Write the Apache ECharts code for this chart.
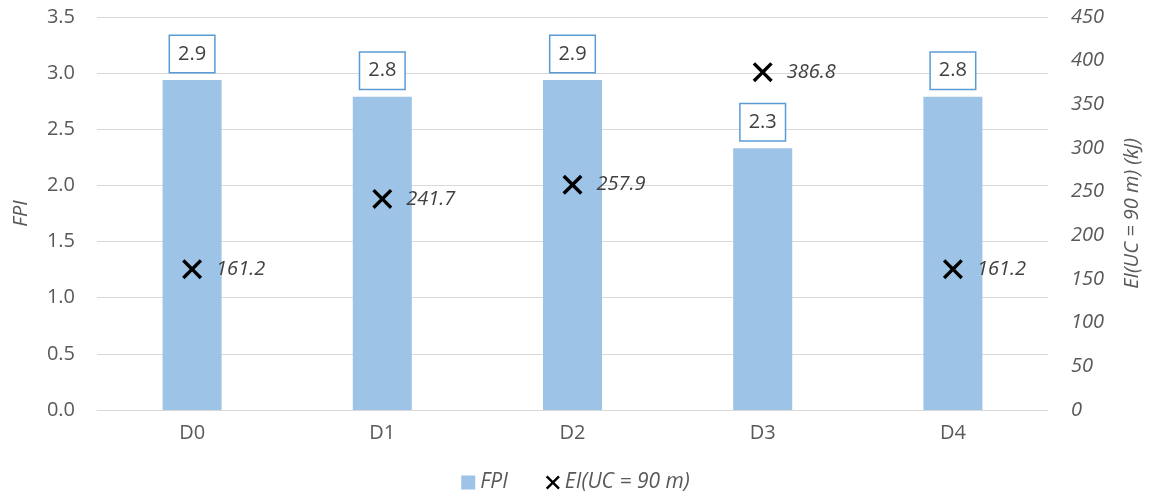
<!DOCTYPE html>
<html>
<head>
<meta charset="utf-8">
<script src="https://cdn.jsdelivr.net/npm/echarts@6/dist/echarts.min.js"></script>
<style>html,body{margin:0;padding:0;background:#fff;}#c{width:1151px;height:502px;}</style>
</head>
<body>
<div id="c"></div>
<script>
const categories = ['D0', 'D1', 'D2', 'D3', 'D4'];
const fpiValues = [2.94, 2.79, 2.94, 2.33, 2.79];
const eiValues = [161.2, 241.7, 257.9, 386.8, 161.2];
const fpiName = 'FPI';
const eiName = 'EI(UC = 90 m)';
const rightAxisTitle = 'EI(UC = 90 m) (kJ)';

const FONT = '"Open Sans", "Noto Sans", sans-serif';
const X_PATH = 'path://M0,1.2 L1.2,0 L5,3.8 L8.8,0 L10,1.2 L6.2,5 L10,8.8 L8.8,10 L5,6.2 L1.2,10 L0,8.8 L3.8,5 Z';

const chart = echarts.init(document.getElementById('c'), null, {renderer: 'canvas'});
chart.setOption({
  animation: false,
  textStyle: {fontFamily: FONT},
  grid: {left: 97, right: 103, top: 17, bottom: 92, containLabel: false},
  legend: {
    bottom: 4,
    left: 'center',
    itemWidth: 14,
    itemHeight: 14,
    itemGap: 38,
    textStyle: {fontFamily: FONT, fontSize: 21, fontStyle: 'italic', color: '#595959'},
    data: [
      {name: fpiName, icon: 'rect'},
      {name: eiName, icon: X_PATH, itemStyle: {color: '#000000', opacity: 1}}
    ]
  },
  xAxis: {
    type: 'category',
    data: categories,
    axisLine: {lineStyle: {color: '#d9d9d9', width: 1}},
    axisTick: {show: false},
    axisLabel: {fontFamily: FONT, fontSize: 20, color: '#595959', margin: 13}
  },
  yAxis: [
    {
      type: 'value',
      min: 0, max: 3.5, interval: 0.5,
      name: 'FPI',
      nameLocation: 'middle',
      nameGap: 66,
      nameRotate: 90,
      nameTextStyle: {fontFamily: FONT, fontSize: 20, fontStyle: 'italic', color: '#595959'},
      axisLine: {show: false},
      axisTick: {show: false},
      splitLine: {lineStyle: {color: '#d9d9d9', width: 1}},
      axisLabel: {fontFamily: FONT, fontSize: 20, color: '#595959', margin: 22,
        formatter: v => v.toFixed(1)}
    },
    {
      type: 'value',
      min: 0, max: 450, interval: 50,
      position: 'right',
      name: rightAxisTitle,
      nameLocation: 'middle',
      nameGap: 74,
      nameRotate: 90,
      nameTextStyle: {fontFamily: FONT, fontSize: 20, fontStyle: 'italic', color: '#595959'},
      axisLine: {show: false},
      axisTick: {show: false},
      splitLine: {show: false},
      axisLabel: {fontFamily: FONT, fontSize: 20, fontStyle: 'italic', color: '#595959', margin: 23}
    }
  ],
  series: [
    {
      name: fpiName,
      type: 'bar',
      yAxisIndex: 0,
      data: fpiValues,
      barWidth: 59,
      itemStyle: {color: '#9dc3e6'},
      label: {
        show: true,
        position: 'top',
        distance: 8,
        formatter: p => p.value.toFixed(1),
        fontFamily: FONT,
        fontSize: 20,
        lineHeight: 24,
        color: '#404040',
        backgroundColor: '#ffffff',
        borderColor: '#5b9bd5',
        borderWidth: 1.5,
        padding: [6, 8, 6, 8]
      }
    },
    {
      name: eiName,
      type: 'scatter',
      yAxisIndex: 1,
      data: eiValues,
      symbol: X_PATH,
      symbolSize: 20,
      itemStyle: {color: '#000000', opacity: 1},
      label: {
        show: true,
        position: 'right',
        distance: 14,
        formatter: p => p.value.toFixed(1),
        fontFamily: FONT,
        fontSize: 20,
        fontStyle: 'italic',
        color: '#404040'
      }
    }
  ]
});
</script>
</body>
</html>
